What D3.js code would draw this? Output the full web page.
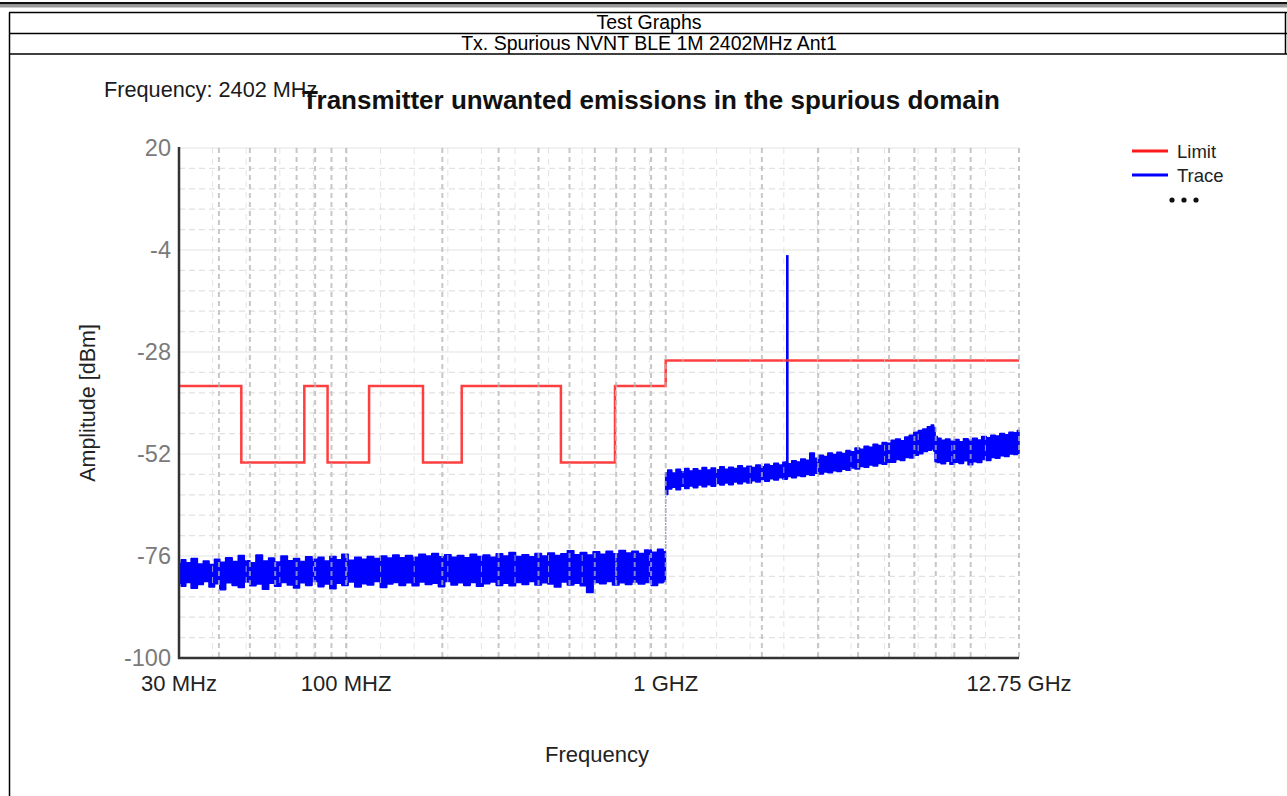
<!DOCTYPE html>
<html><head><meta charset="utf-8">
<script src="https://cdn.jsdelivr.net/npm/d3@7"></script>
<style>
html,body{margin:0;padding:0;background:#fff;}
svg{display:block;font-family:"Liberation Sans",Arial,sans-serif;}
</style></head>
<body>
<svg id="c" width="1287" height="796"></svg>
<script>
// ---------- DATA ----------
const headerTitle = "Test Graphs";
const headerSub = "Tx. Spurious NVNT BLE 1M 2402MHz Ant1";
const chartTitle = "Transmitter unwanted emissions in the spurious domain";
const freqNote = "Frequency: 2402 MHz";
const yTicks = [20, -4, -28, -52, -76, -100];
const xTickFreqs = [30, 100, 1000, 12750];
const xTickLabels = ["30 MHz", "100 MHZ", "1 GHZ", "12.75 GHz"];
const seriesNames = ["Limit", "Trace"];

// Limit (step) : edges in MHz and level in dBm
const limitEdges = [30, 47, 74, 87.5, 118, 174, 230, 470, 694, 1000, 12750];
const limitLevels = [-36, -54, -36, -54, -36, -54, -36, -54, -36, -30];

// Trace, 30 MHz - 1 GHz : upper / lower envelope (dBm)
const lowFreq = [30,31,32,33.5,35,36.5,38,39.5,41,43,45,47,49,51,53.5,56,58.5,61,64,67,70,73,76.5,80,83.5,87,91,95,99,104,109,114,119,125,131,137,143,150,157,165,173,181,190,199,208,218,228,239,250,262,275,288,302,316,331,347,364,381,399,418,438,459,481,504,528,553,579,607,636,666,698,731,766,802,840,880,922,965,998];
const lowHi = [-77.8,-76.9,-77.6,-76.6,-77.9,-77.2,-78.0,-76.8,-77.5,-76.4,-77.3,-75.9,-77.1,-77.6,-75.8,-77.2,-76.5,-77.4,-76.0,-77.1,-76.6,-77.3,-76.2,-76.8,-76.3,-77.2,-76.1,-76.9,-75.6,-77.0,-76.3,-76.8,-76.1,-76.6,-76.0,-76.5,-75.8,-76.4,-75.9,-76.3,-75.6,-76.0,-75.4,-76.2,-75.7,-76.3,-75.9,-76.4,-75.6,-76.1,-75.8,-76.3,-75.5,-76.0,-75.2,-76.1,-75.7,-76.2,-75.4,-76.0,-75.3,-75.9,-75.5,-74.8,-75.7,-75.2,-75.8,-75.0,-75.6,-74.9,-75.5,-74.7,-75.3,-74.9,-75.4,-74.6,-75.1,-74.4,-75.0];
const lowLo = [-82.4,-83.1,-82.2,-83.6,-82.7,-82.0,-83.3,-82.5,-83.9,-82.3,-82.9,-83.4,-82.1,-83.0,-82.6,-83.8,-82.4,-83.1,-82.2,-82.8,-83.5,-82.3,-82.9,-82.0,-83.2,-82.6,-83.7,-82.4,-82.9,-82.1,-83.3,-82.5,-82.8,-82.0,-83.4,-82.6,-82.2,-82.9,-82.3,-83.0,-82.1,-82.7,-82.4,-83.2,-82.0,-82.8,-82.3,-82.9,-82.2,-83.1,-82.5,-82.1,-82.9,-82.4,-83.0,-82.2,-82.7,-82.0,-82.8,-82.3,-82.6,-83.3,-82.1,-82.8,-82.4,-83.0,-84.6,-82.2,-82.5,-82.0,-82.8,-82.3,-82.7,-82.1,-82.6,-82.2,-82.9,-82.3,-82.0];

// Trace, 1 GHz - 12.75 GHz : upper / lower envelope (dBm)
const highFreq = [1000,1030,1060,1095,1130,1165,1200,1240,1280,1320,1365,1410,1455,1500,1550,1600,1655,1710,1765,1825,1885,1945,2010,2075,2145,2215,2290,2365,2440,2520,2605,2690,2780,2870,2965,3065,3165,3270,3380,3490,3605,3725,3850,3975,4110,4245,4385,4530,4680,4835,4995,5160,5330,5510,5690,5880,6075,6275,6480,6700,6850,6930,7000,7150,7390,7630,7880,8140,8410,8690,8980,9280,9590,9910,10240,10580,10930,11290,11670,12060,12460,12750];
const highHi = [-56.4,-55.8,-56.5,-55.6,-56.2,-55.4,-56.0,-55.5,-55.9,-55.2,-55.8,-55.3,-55.7,-55.0,-55.6,-55.1,-55.4,-54.8,-55.3,-54.9,-55.2,-54.6,-55.0,-54.4,-54.8,-54.2,-54.6,-53.9,-54.3,-53.6,-53.9,-53.2,-53.5,-51.8,-53.0,-52.3,-52.6,-51.8,-52.1,-51.6,-51.9,-51.2,-51.5,-50.6,-50.9,-50.2,-50.4,-49.7,-50.0,-49.3,-49.5,-48.8,-48.5,-48.9,-48.0,-47.6,-46.9,-46.5,-46.1,-45.6,-45.2,-45.8,-47.9,-48.3,-48.8,-48.5,-49.0,-48.6,-49.1,-48.4,-48.8,-48.3,-48.7,-47.9,-48.2,-47.6,-47.8,-47.2,-47.5,-46.9,-47.0,-46.5];
const highLo = [-61.5,-60.2,-59.8,-60.4,-59.6,-60.1,-59.5,-59.9,-59.3,-59.7,-59.2,-59.6,-58.9,-59.3,-58.8,-59.2,-58.6,-59.0,-58.5,-58.8,-58.3,-58.6,-58.0,-58.4,-57.8,-58.1,-57.6,-57.9,-57.3,-57.6,-57.1,-57.3,-56.8,-57.0,-56.5,-56.7,-56.2,-56.4,-55.9,-56.1,-55.6,-55.8,-55.3,-55.5,-54.9,-55.1,-54.6,-54.8,-54.2,-54.4,-53.9,-53.9,-53.3,-53.5,-52.8,-52.9,-52.3,-51.9,-51.4,-51.1,-50.8,-51.3,-53.8,-54.0,-54.3,-53.7,-54.4,-53.9,-54.2,-53.6,-54.5,-53.8,-54.0,-53.3,-53.5,-52.8,-53.0,-52.4,-52.6,-52.0,-52.1,-51.8];

// Carrier spike
const spikeFreq = 2402;
const spikePeak = -5.2;

// ---------- CHART ----------
const svg = d3.select("#c");
const W = 1287, H = 796;
const plot = {left: 179, right: 1019, top: 148, bottom: 658};

// page frame (report table)
svg.append("rect").attr("x", 0).attr("y", 2).attr("width", W).attr("height", 2.5).attr("fill", "#111");
svg.append("rect").attr("x", 0).attr("y", 4.5).attr("width", W).attr("height", 3).attr("fill", "#9a9a9a");
const frame = svg.append("g").attr("stroke", "#000").attr("stroke-width", 1.5);
frame.append("line").attr("x1", 9).attr("x2", W).attr("y1", 12.5).attr("y2", 12.5);
frame.append("line").attr("x1", 9).attr("x2", W).attr("y1", 33.5).attr("y2", 33.5);
frame.append("line").attr("x1", 9).attr("x2", W).attr("y1", 54).attr("y2", 54);
frame.append("line").attr("x1", 9.5).attr("x2", 9.5).attr("y1", 12.5).attr("y2", H);
frame.append("line").attr("x1", 1285.5).attr("x2", 1285.5).attr("y1", 12.5).attr("y2", 54);
svg.append("text").attr("x", 649).attr("y", 29).attr("text-anchor", "middle")
  .attr("font-size", 19.5).attr("fill", "#000").text(headerTitle);
svg.append("text").attr("x", 649).attr("y", 50).attr("text-anchor", "middle")
  .attr("font-size", 19.5).attr("fill", "#000").text(headerSub);

// scales
const x = d3.scaleLog().domain([30, 12750]).range([plot.left, plot.right]);
const y = d3.scaleLinear().domain([-100, 20]).range([plot.bottom, plot.top]);

// horizontal grid
const gGrid = svg.append("g");
const minorY = d3.range(0, 25).map(i => 20 - i * 4.8).filter(v => !yTicks.includes(Math.round(v*10)/10));
gGrid.selectAll(".hm").data(minorY).join("line")
  .attr("x1", plot.left).attr("x2", plot.right)
  .attr("y1", d => y(d)).attr("y2", d => y(d))
  .attr("stroke", "#e2e2e2").attr("stroke-width", 1.2).attr("stroke-dasharray", "6,4");
gGrid.selectAll(".hM").data(yTicks.filter(v => v > -100)).join("line")
  .attr("x1", plot.left).attr("x2", plot.right)
  .attr("y1", d => y(d)).attr("y2", d => y(d))
  .attr("stroke", "#ececec").attr("stroke-width", 1.5);

// series
const limitPts = [];
limitLevels.forEach((lv, i) => { limitPts.push([limitEdges[i], lv]); limitPts.push([limitEdges[i+1], lv]); });
const lineGen = d3.line().x(d => x(d[0])).y(d => y(d[1]));

const lowData = lowFreq.map((f, i) => ({f, hi: lowHi[i], lo: lowLo[i]})).filter(d => d.hi !== undefined && d.lo !== undefined);
const highData = highFreq.map((f, i) => ({f, hi: highHi[i], lo: highLo[i]})).filter(d => d.hi !== undefined && d.lo !== undefined);
const area = d3.area().curve(d3.curveStep).x(d => x(d.f)).y0(d => y(d.lo)).y1(d => y(d.hi));
const gS = svg.append("g");
[lowData, highData].forEach(dat => {
  gS.append("path").datum(dat).attr("d", area).attr("fill", "#0000ff")
    .attr("stroke", "#0000ff").attr("stroke-width", 1.6).attr("stroke-linejoin", "round");
});
// jump at 1 GHz
gS.append("line").attr("x1", x(1000)).attr("x2", x(1000))
  .attr("y1", y(lowHi[lowHi.length-1])).attr("y2", y(highLo[0]))
  .attr("stroke", "#4a4aff").attr("stroke-width", 1).attr("stroke-dasharray", "1.5,1.5");
// spike
const spikeBase = d3.max(highData.filter(d => Math.abs(d.f - spikeFreq) < 60), d => d.lo);
gS.append("line").attr("x1", x(spikeFreq)).attr("x2", x(spikeFreq))
  .attr("y1", y(spikeBase)).attr("y2", y(spikePeak))
  .attr("stroke", "#0000ff").attr("stroke-width", 2.6);

gS.append("path").datum(limitPts).attr("d", lineGen).attr("fill", "none")
  .attr("stroke", "#ff2a2a").attr("stroke-width", 2.5).attr("stroke-opacity", 0.9);

// vertical grid (on top, semi-transparent)
const gV = svg.append("g");
const uniformFr = d3.range(1, 25).map(i => x.invert(plot.left + (plot.right - plot.left) * i / 25));
gV.selectAll(".vu").data(uniformFr).join("line")
  .attr("x1", d => x(d)).attr("x2", d => x(d)).attr("y1", plot.top).attr("y2", plot.bottom)
  .attr("stroke", "#d8d8d8").attr("stroke-opacity", 0.7).attr("stroke-width", 1).attr("stroke-dasharray", "6,5");
const decadeFr = [];
[10, 100, 1000].forEach(b => d3.range(1, 10).forEach(k => { const f = b * k; if (f > 30 && f <= 12750) decadeFr.push(f); }));
decadeFr.push(12750);
gV.selectAll(".vd").data(decadeFr).join("line")
  .attr("x1", d => x(d)).attr("x2", d => x(d)).attr("y1", plot.top).attr("y2", plot.bottom)
  .attr("stroke", "#b4b4b4").attr("stroke-opacity", 0.75).attr("stroke-width", 2).attr("stroke-dasharray", "5,4");

// axes lines
svg.append("line").attr("x1", plot.left).attr("x2", plot.left).attr("y1", plot.top - 1).attr("y2", plot.bottom + 1)
  .attr("stroke", "#333").attr("stroke-width", 2.5);
svg.append("line").attr("x1", plot.left - 1).attr("x2", plot.right).attr("y1", plot.bottom).attr("y2", plot.bottom)
  .attr("stroke", "#333").attr("stroke-width", 2.5);

// y tick labels
svg.append("g").selectAll("text").data(yTicks).join("text")
  .attr("x", 171).attr("y", d => y(d) + 8).attr("text-anchor", "end")
  .attr("font-size", 23.5).attr("fill", "#7a7a7a").text(d => d);
// x tick labels
svg.append("g").selectAll("text").data(xTickFreqs).join("text")
  .attr("x", d => x(d)).attr("y", 691).attr("text-anchor", "middle")
  .attr("font-size", 22).attr("fill", "#222").text((d, i) => xTickLabels[i]);

// axis titles
svg.append("text").attr("x", 597).attr("y", 762).attr("text-anchor", "middle")
  .attr("font-size", 22).attr("fill", "#222").text("Frequency");
svg.append("text").attr("transform", "translate(95,403) rotate(-90)").attr("text-anchor", "middle")
  .attr("font-size", 21.5).attr("fill", "#222").text("Amplitude [dBm]");

// titles
svg.append("text").attr("x", 104).attr("y", 97).attr("font-size", 21.7).attr("fill", "#1a1a1a").text(freqNote);
svg.append("text").attr("x", 651).attr("y", 109).attr("text-anchor", "middle")
  .attr("font-size", 26).attr("font-weight", "bold").attr("fill", "#111").text(chartTitle);

// legend
const lg = svg.append("g");
const legColors = ["#ff1a1a", "#0000ff"];
seriesNames.forEach((n, i) => {
  const yy = 151 + i * 24;
  lg.append("line").attr("x1", 1132).attr("x2", 1168).attr("y1", yy).attr("y2", yy)
    .attr("stroke", legColors[i]).attr("stroke-width", 3);
  lg.append("text").attr("x", 1177).attr("y", yy + 7).attr("font-size", 18.5).attr("fill", "#222").text(n);
});
lg.selectAll("circle").data([0, 1, 2]).join("circle")
  .attr("cx", d => 1172 + d * 12).attr("cy", 200).attr("r", 2.6).attr("fill", "#111");
</script>
</body></html>
